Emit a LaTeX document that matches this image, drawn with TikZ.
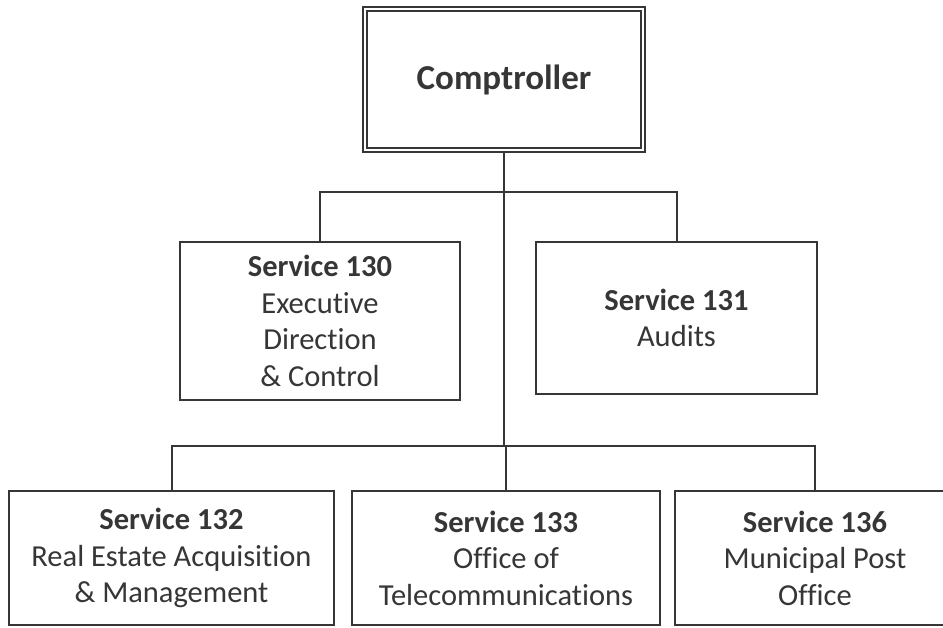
\documentclass[tikz,border=0pt]{standalone}
\usepackage{fontspec}
\setmainfont{Carlito}[Ligatures={NoCommon,NoContextual}]
\definecolor{ink}{HTML}{363636}
\begin{document}
\begin{tikzpicture}[x=1pt,y=-1pt,
  box/.style={draw=ink, line width=2pt, text=ink, align=center, inner sep=0pt,
              font=\fontsize{30.5}{36.5}\selectfont},
  link/.style={draw=ink, line width=2pt}]
\useasboundingbox (0,0) rectangle (943,628);
\clip (0,0) rectangle (943,628);
\fill[white] (0,0) rectangle (943,628);

\node[box, double=white, line width=1.8pt, double distance=2.6pt,
      minimum width=278pt, minimum height=141pt,
      font=\fontsize{35}{40}\selectfont] (comp) at (504,79.5) {\textbf{Comptroller}};

\node[box, minimum width=280pt, minimum height=158pt] (s130) at (320,321)
  {\textbf{Service 130}\\Executive\\Direction\\\& Control};
\node[box, minimum width=281pt, minimum height=152pt] (s131) at (676.5,318)
  {\textbf{Service 131}\\Audits};

\node[box, minimum width=325pt, minimum height=134pt] (s132) at (171.5,558)
  {\textbf{Service 132}\\Real Estate Acquisition\\\& Management};
\node[box, minimum width=308pt, minimum height=134pt] (s133) at (506,558)
  {\textbf{Service 133}\\Office of\\Telecommunications};
\node[box, minimum width=280pt, minimum height=134pt] (s136) at (815,558)
  {\textbf{Service 136}\\Municipal Post\\Office};

\coordinate (j1) at (504,192);
\coordinate (j2) at (504,446);

\draw[link] (comp.south) -- (j2);
\draw[link] (s130.north) |- (j1) -| (s131.north);
\draw[link] (s132.north) |- (j2) -| (s136.north);
\draw[link] (j2) -| (s133.north);
\end{tikzpicture}
\end{document}
